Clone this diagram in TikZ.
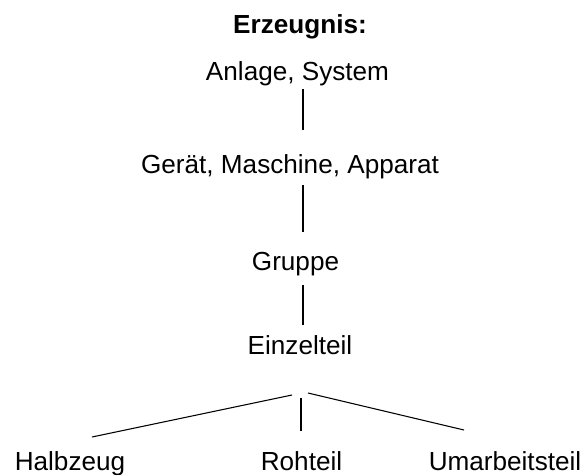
\documentclass[tikz,border=0pt]{standalone}
\usepackage{fontspec}
\setmainfont{Liberation Sans}
\usepackage{tikz}
\usetikzlibrary{calc}
\tikzset{
  lbl/.style={anchor=base,inner sep=0pt,font=\fontsize{19.6}{23}\selectfont},
  ttl/.style={lbl,font=\fontsize{19.6}{23}\selectfont\bfseries},
}

\begin{document}
\begin{tikzpicture}[
    x=0.75pt,y=-0.75pt,
    conn/.style={line width=0.8pt,black}
  ]
    \useasboundingbox (0,0) rectangle (586,475);
    \coordinate (spine) at (303,0);
    % hierarchy levels
    \node[ttl] (erz) at (300,33) {Erzeugnis:};
    \node[lbl] (anl) at (297.5,80) {Anlage, System};
    \node[lbl] (ger) at (290,173) {Gerät, Maschine, Apparat};
    \node[lbl] (grp) at (295.5,270) {Gruppe};
    \node[lbl] (einz) at (300,354) {Einzelteil};
    \node[lbl] (halb) at (70,470) {Halbzeug};
    \node[lbl] (roh) at (301.5,470) {Rohteil};
    \node[lbl] (umar) at (505,470) {Umarbeitsteil};
    % vertical links
    \draw[conn] ($(anl.base -| spine)+(0,9)$) -- ($(ger.base -| spine)+(0,-43)$);
    \draw[conn] ($(ger.base -| spine)+(0,12)$) -- ($(grp.base -| spine)+(0,-38)$);
    \draw[conn] ($(grp.base -| spine)+(0,15)$) -- ($(einz.base -| spine)+(0,-29)$);
    % branches
    \draw[conn] ($(einz.base)+(-8,41)$) -- ($(halb.base)+(22,-33)$);
    \draw[conn] ($(einz.base)+(1,44)$) -- ($(roh.base)+(-0.5,-39)$);
    \draw[conn] ($(einz.base)+(8,39)$) -- ($(umar.base)+(-41,-40)$);
  \end{tikzpicture}
\end{document}
